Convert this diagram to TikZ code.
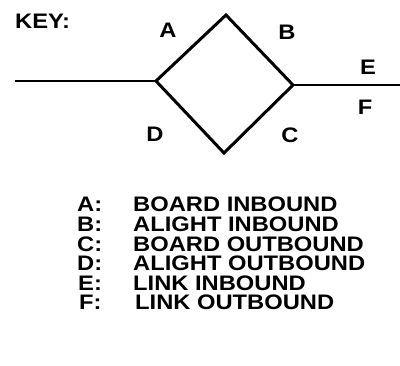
\documentclass[tikz,border=0pt]{standalone}
\usepackage{fontspec}
\setmainfont{Liberation Sans}[FakeStretch=1.13]
\begin{document}
\begin{tikzpicture}[x=1pt,y=-1pt,
  lbl/.style={font=\bfseries\fontsize{21}{24}\selectfont, inner sep=0pt},
  keyrow/.style={lbl, anchor=base west},
  link/.style={line width=1.5pt},
  loop/.style={line width=3pt, line join=miter}]
\useasboundingbox (0,0) rectangle (400,366);

% junction diamond and its links
\coordinate (W) at (156,81);
\coordinate (N) at (226,15);
\coordinate (Ea) at (293,85);
\coordinate (S) at (224,153);
\coordinate (lend) at (15,81);
\coordinate (rend) at (400,85);
\draw[loop] (W) -- (N) -- (Ea) -- (S) -- cycle;
\draw[link] (lend) -- (W);
\draw[link] (Ea) -- (rend);

% labels around the diamond
\node[lbl, anchor=base west] (key) at (15,29) {KEY:};
\node[lbl] (la) at (168,30) {A};
\node[lbl] (lb) at (287,32) {B};
\node[lbl] (le) at (368,67) {E};
\node[lbl] (lf) at (365,107) {F};
\node[lbl] (ld) at (155,134) {D};
\node[lbl] (lc) at (290,135) {C};

% legend
\node[keyrow] (ka) at (77,212) {A:};
\node[keyrow] (kb) at (77,231.6) {B:};
\node[keyrow] (kc) at (77,251.2) {C:};
\node[keyrow] (kd) at (77,270.8) {D:};
\node[keyrow] (ke) at (78,290.4) {E:};
\node[keyrow] (kf) at (79,310) {F:};
\node[keyrow] (ta) at (133,212) {BOARD INBOUND};
\node[keyrow] (tb) at (133,231.6) {ALIGHT INBOUND};
\node[keyrow] (tc) at (133,251.2) {BOARD OUTBOUND};
\node[keyrow] (td) at (133,270.8) {ALIGHT OUTBOUND};
\node[keyrow] (te) at (133,290.4) {LINK INBOUND};
\node[keyrow] (tf) at (135,310) {LINK OUTBOUND};
\end{tikzpicture}
\end{document}
